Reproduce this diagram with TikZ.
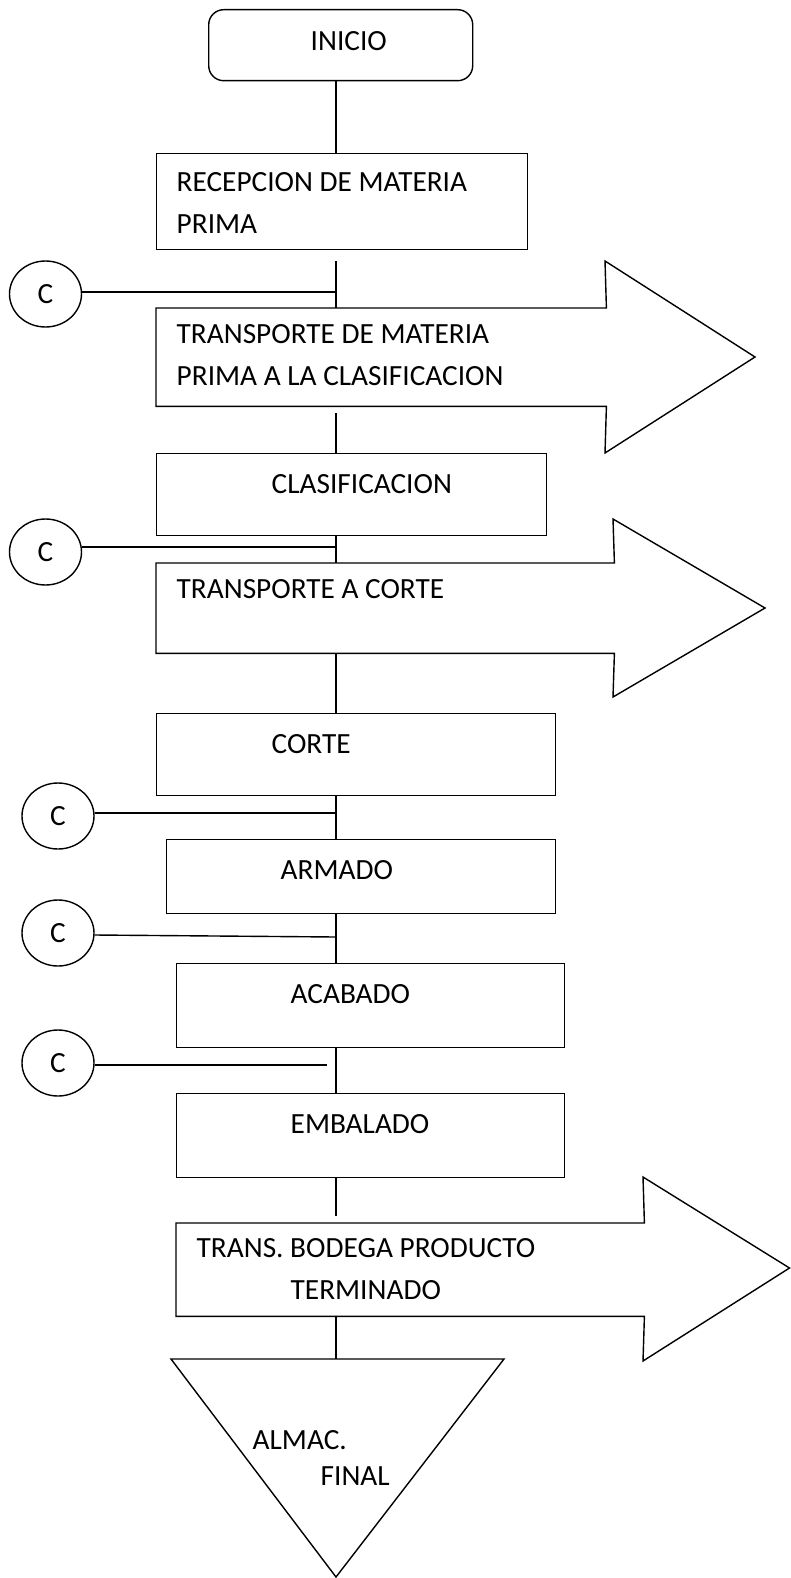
\documentclass[tikz,border=0pt]{standalone}
\usepackage{fontspec}
\setmainfont{Carlito}
\usetikzlibrary{shapes.geometric}
\begin{document}
\begin{tikzpicture}[x=1pt,y=-1pt,line width=1.4pt,
  stepbox/.style={draw,rectangle,inner sep=0pt,anchor=north west},
  bodybox/.style={rectangle,inner sep=0pt,anchor=north west},
  startbox/.style={stepbox,rounded corners=15pt},
  lbl/.style={anchor=base west,inner sep=0pt,font=\fontsize{29.3}{34}\selectfont},
  cnode/.style={draw,ellipse,inner sep=0pt,minimum width=72pt,minimum height=66pt,
    font=\fontsize{29.3}{34}\selectfont},
  link/.style={draw}]
\useasboundingbox (0,0) rectangle (791,1578);
\coordinate (spine) at (336,0);

% --- process boxes ---
\node[startbox,minimum width=264pt,minimum height=71pt] (inicio) at (208,9) {};
\node[lbl] (tInicio) at (310,51) {INICIO};

\node[stepbox,minimum width=371pt,minimum height=96pt] (recep) at (156,153) {};
\node[lbl] (tRecepA) at (176,192) {RECEPCION DE MATERIA};
\node[lbl] (tRecepB) at (176,234) {PRIMA};

% transport arrow 1
\node[bodybox,minimum width=449pt,minimum height=97pt] (arr1) at (156,308) {};
\draw (arr1.north west) -- (arr1.north east) -- (605,261) -- (755,357)
      -- (605,453) -- (arr1.south east) -- (arr1.south west) -- cycle;
\node[lbl] (tArr1A) at (176,343) {TRANSPORTE DE MATERIA};
\node[lbl] (tArr1B) at (176,385) {PRIMA A LA CLASIFICACION};

\node[stepbox,minimum width=390pt,minimum height=82pt] (clas) at (156,453) {};
\node[lbl] (tClas) at (271,493) {CLASIFICACION};

% transport arrow 2
\node[bodybox,minimum width=457pt,minimum height=89pt] (arr2) at (156,563) {};
\draw (arr2.north west) -- (arr2.north east) -- (613,519) -- (765,608)
      -- (613,697) -- (arr2.south east) -- (arr2.south west) -- cycle;
\node[lbl] (tArr2) at (176,598) {TRANSPORTE A CORTE};

\node[stepbox,minimum width=399pt,minimum height=82pt] (corte) at (156,713) {};
\node[lbl] (tCorte) at (271,753) {CORTE};

\node[stepbox,minimum width=389pt,minimum height=74pt] (armado) at (166,839) {};
\node[lbl] (tArmado) at (280,879) {ARMADO};

\node[stepbox,minimum width=388pt,minimum height=84pt] (acabado) at (176,963) {};
\node[lbl] (tAcabado) at (290,1003) {ACABADO};

\node[stepbox,minimum width=388pt,minimum height=84pt] (embalado) at (176,1093) {};
\node[lbl] (tEmbalado) at (290,1133) {EMBALADO};

% transport arrow 3
\node[bodybox,minimum width=467pt,minimum height=92pt] (arr3) at (176,1223) {};
\draw (arr3.north west) -- (arr3.north east) -- (643,1177) -- (789.5,1268)
      -- (643,1361) -- (arr3.south east) -- (arr3.south west) -- cycle;
\node[lbl] (tArr3A) at (196,1257) {TRANS. BODEGA PRODUCTO};
\node[lbl] (tArr3B) at (290,1299) {TERMINADO};

% final storage triangle
\coordinate (almacL) at (171,1359);
\coordinate (almacR) at (504,1359);
\coordinate (almacB) at (336,1577);
\coordinate (almac) at (336,1359);
\draw (almacL) -- (almacR) -- (almacB) -- cycle;
\node[lbl] (tAlmacA) at (252,1449) {ALMAC.};
\node[lbl] (tAlmacB) at (320,1485) {FINAL};

% --- control circles ---
\node[cnode] (c1) at (45.5,294) {C};
\node[cnode] (c2) at (45.5,552) {C};
\node[cnode] (c3) at (58,816) {C};
\node[cnode] (c4) at (58,933) {C};
\node[cnode] (c5) at (58,1063) {C};

% --- connectors ---
\coordinate (j1) at (336,261);
\coordinate (j2) at (336,413);
\coordinate (j3) at (336,1216);
\coordinate (c5end) at (327,1065);

\draw[link] (inicio.south -| spine) -- (recep.north -| spine);
\draw[link] (j1) -- (arr1.north -| spine);
\draw[link] (j2) -- (clas.north -| spine);
\draw[link] (clas.south -| spine) -- (arr2.north -| spine);
\draw[link] (arr2.south -| spine) -- (corte.north -| spine);
\draw[link] (corte.south -| spine) -- (armado.north -| spine);
\draw[link] (armado.south -| spine) -- (acabado.north -| spine);
\draw[link] (acabado.south -| spine) -- (embalado.north -| spine);
\draw[link] (embalado.south -| spine) -- (j3);
\draw[link] (arr3.south -| spine) -- (almac);

\draw[link] (c1.east |- 0,292) -- (spine |- 0,292);
\draw[link] (c2.east |- 0,547) -- (spine |- 0,547);
\draw[link] (c3.east |- 0,813) -- (spine |- 0,813);
\draw[link] (c4.east |- 0,935) -- (spine |- 0,937);
\draw[link] (c5.east |- 0,1065) -- (c5end);
\end{tikzpicture}
\end{document}
